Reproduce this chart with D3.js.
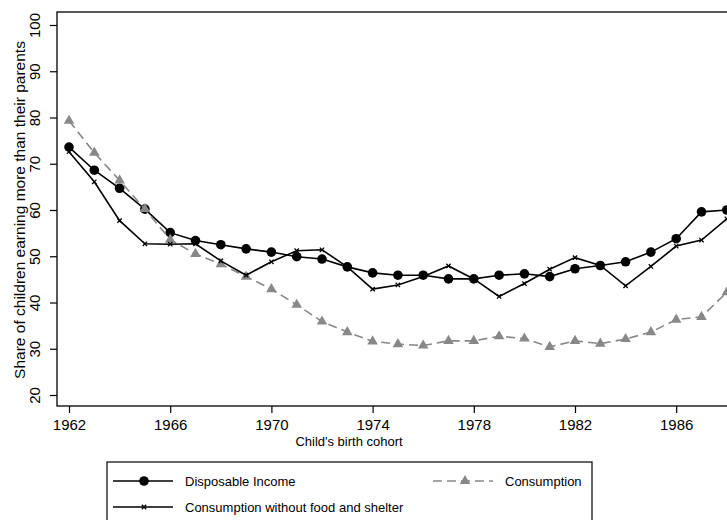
<!DOCTYPE html>
<html>
<head>
<meta charset="utf-8">
<script src="https://cdn.jsdelivr.net/npm/d3@7"></script>
<style>
  body { margin: 0; background: #fff; }
  svg { display: block; font-family: "Liberation Sans", Arial, sans-serif; }
</style>
</head>
<body>
<div id="chart"></div>
<script>
const years = d3.range(1962, 1989);
const disposableIncome = [73.6, 68.6, 64.7, 60.2, 55.1, 53.4, 52.5, 51.6, 50.9, 49.9, 49.4, 47.7, 46.4,
  45.9, 45.9, 45.1, 45.1, 45.9, 46.2, 45.6, 47.3, 48.0, 48.8, 50.9, 53.8, 59.6, 60.0];
const consumption = [79.3, 72.4, 66.4, 60.2, 53.6, 50.5, 48.3, 45.6, 42.9, 39.5, 35.9, 33.6, 31.6,
  31.0, 30.7, 31.7, 31.7, 32.7, 32.2, 30.4, 31.7, 31.1, 32.1, 33.6, 36.3, 36.9, 42.2];
const consNoFoodShelter = [72.6, 66.1, 57.7, 52.7, 52.6, 52.7, 49.0, 45.9, 48.8, 51.2, 51.4, 47.7, 42.9,
  43.8, 45.6, 47.9, 45.1, 41.3, 44.1, 47.2, 49.7, 48.0, 43.6, 47.8, 52.2, 53.5, 58.1];
const xTicks = [1962, 1966, 1970, 1974, 1978, 1982, 1986];
const yTicks = [20, 30, 40, 50, 60, 70, 80, 90, 100];

const width = 727, height = 520;
const grey = "#888888";

const svg = d3.select("#chart").append("svg")
  .attr("width", width)
  .attr("height", height);

const x = d3.scaleLinear().domain([1962, 1988]).range([69, 726.8]);
const y = d3.scaleLinear().domain([20, 100]).range([395, 25]);

// plot frame
svg.append("rect")
  .attr("x", 57).attr("y", 12)
  .attr("width", 720).attr("height", 394)
  .attr("fill", "none")
  .attr("stroke", "#000")
  .attr("stroke-width", 1.3);

// axes
const xAxis = svg.append("g")
  .attr("transform", "translate(0,406)")
  .call(d3.axisBottom(x).tickValues(xTicks).tickFormat(d3.format("d")).tickSize(7).tickPadding(6));
xAxis.select(".domain").remove();
xAxis.selectAll("text").attr("font-size", 15).attr("fill", "#000").attr("font-family", null);

const yAxis = svg.append("g")
  .attr("transform", "translate(57,0)")
  .call(d3.axisLeft(y).tickValues(yTicks).tickSize(7).tickFormat(d3.format("d")));
yAxis.select(".domain").remove();
yAxis.selectAll("text")
  .attr("font-size", 15)
  .attr("fill", "#000")
  .attr("font-family", null)
  .attr("text-anchor", "middle")
  .attr("dy", 0)
  .attr("x", 0)
  .attr("transform", "translate(-17,0) rotate(-90)");
svg.selectAll(".tick line").attr("stroke", "#000").attr("stroke-width", 1.2);

// axis titles
svg.append("text")
  .attr("x", 349).attr("y", 446)
  .attr("text-anchor", "middle")
  .attr("font-size", 13)
  .text("Child's birth cohort");

svg.append("text")
  .attr("transform", "translate(25,210) rotate(-90)")
  .attr("text-anchor", "middle")
  .attr("font-size", 15.5)
  .text("Share of children earning more than their parents");

const line = d3.line()
  .x((d, i) => x(years[i]))
  .y(d => y(d));

const tri = d3.symbol().type(d3.symbolTriangle).size(48);

// disposable income
svg.append("path")
  .datum(disposableIncome)
  .attr("d", line)
  .attr("fill", "none")
  .attr("stroke", "#000")
  .attr("stroke-width", 1.6);
svg.append("g").selectAll("circle")
  .data(disposableIncome)
  .join("circle")
  .attr("cx", (d, i) => x(years[i]))
  .attr("cy", d => y(d))
  .attr("r", 4.8)
  .attr("fill", "#000");

// consumption
svg.append("path")
  .datum(consumption)
  .attr("d", line)
  .attr("fill", "none")
  .attr("stroke", grey)
  .attr("stroke-width", 1.6)
  .attr("stroke-dasharray", "9,5");
svg.append("g").selectAll("path")
  .data(consumption)
  .join("path")
  .attr("d", tri)
  .attr("transform", (d, i) => `translate(${x(years[i])},${y(d)})`)
  .attr("fill", grey);

// consumption without food and shelter
svg.append("path")
  .datum(consNoFoodShelter)
  .attr("d", line)
  .attr("fill", "none")
  .attr("stroke", "#000")
  .attr("stroke-width", 1.6);
svg.append("g").selectAll("path")
  .data(consNoFoodShelter)
  .join("path")
  .attr("d", d3.symbol().type(d3.symbolX).size(14))
  .attr("transform", (d, i) => `translate(${x(years[i])},${y(d)})`)
  .attr("fill", "none")
  .attr("stroke", "#000")
  .attr("stroke-width", 1.3);

// legend
const legend = svg.append("g");
legend.append("rect")
  .attr("x", 107).attr("y", 462)
  .attr("width", 485).attr("height", 80)
  .attr("fill", "#fff")
  .attr("stroke", "#000")
  .attr("stroke-width", 1.2);

const items = [
  {label: "Disposable Income", x0: 113, y0: 481, color: "#000", dash: null, mark: "circle"},
  {label: "Consumption", x0: 433, y0: 481, color: grey, dash: "9,5", mark: "tri"},
  {label: "Consumption without food and shelter", x0: 113, y0: 507, color: "#000", dash: null, mark: "x"}
];
items.forEach(it => {
  const g = legend.append("g").attr("transform", `translate(${it.x0},${it.y0})`);
  g.append("line")
    .attr("x1", 0).attr("x2", 60)
    .attr("stroke", it.color)
    .attr("stroke-width", 1.6)
    .attr("stroke-dasharray", it.dash);
  if (it.mark === "circle") {
    g.append("circle").attr("cx", 31).attr("r", 4.8).attr("fill", "#000");
  } else if (it.mark === "tri") {
    g.append("path").attr("d", tri).attr("transform", "translate(32,0)").attr("fill", grey);
  } else {
    g.append("path").attr("d", d3.symbol().type(d3.symbolX).size(14))
      .attr("transform", "translate(31,0)")
      .attr("stroke", "#000").attr("stroke-width", 1.3).attr("fill", "none");
  }
  g.append("text")
    .attr("x", 72).attr("dy", "0.35em")
    .attr("font-size", 13)
    .text(it.label);
});
</script>
</body>
</html>
